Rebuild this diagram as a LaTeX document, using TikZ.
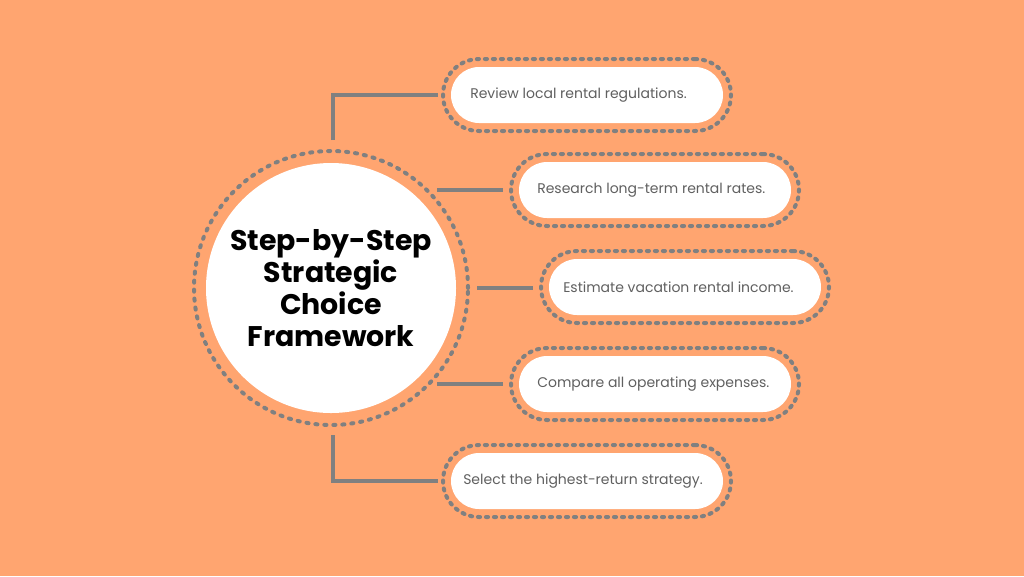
\documentclass[tikz,border=0pt]{standalone}
\usepackage{fontspec}
\setmainfont{Poppins}
\definecolor{bg}{HTML}{FFA570}
\definecolor{dotgray}{HTML}{808080}
\definecolor{textgray}{HTML}{606060}
\begin{document}
\begin{tikzpicture}[x=0.75pt,y=-0.75pt,
  pillout/.style={draw=dotgray, line width=3pt, dash pattern=on 1.6pt off 4.4pt, line cap=round, rounded corners=27pt, minimum width=216pt, minimum height=54pt, inner sep=0pt, outer sep=0pt},
  pillin/.style={fill=white, rounded corners=21pt, minimum width=204pt, minimum height=42pt, inner sep=0pt},
  pilltext/.style={anchor=west, font=\fontsize{10.5}{12}\selectfont, text=textgray, inner sep=0pt},
  conn/.style={draw=dotgray, line width=3pt},
  ringstyle/.style={circle, draw=dotgray, line width=3pt, dash pattern=on 1.6pt off 5.15pt, line cap=round, minimum size=205.5pt, inner sep=0pt, outer sep=0pt},
  discstyle/.style={circle, fill=white, minimum size=187.5pt, inner sep=0pt},
  titlestyle/.style={align=center, font=\bfseries\fontsize{21.3}{24}\selectfont, text=black}
]
\fill[bg] (0,0) rectangle (1024,576);
\useasboundingbox (0,0) rectangle (1024,576);

% central circle
\node[ringstyle] (ring) at (331,288) {};
\node[discstyle] (disc) at (331,288) {};
\node[titlestyle] (title) at (331,288) {Step-by-Step\\Strategic\\Choice\\Framework};

% pills
\node[pillout] (p1) at (587,95) {};
\node[pillin] (w1) at (587,95) {};
\node[pilltext] (t1) at (470,95) {Review local rental regulations.};

\node[pillout] (p2) at (655,190) {};
\node[pillin] (w2) at (655,190) {};
\node[pilltext] (t2) at (537,190) {Research long-term rental rates.};

\node[pillout] (p3) at (685,287) {};
\node[pillin] (w3) at (685,287) {};
\node[pilltext] (t3) at (563,287) {Estimate vacation rental income.};

\node[pillout] (p4) at (655,384) {};
\node[pillin] (w4) at (655,384) {};
\node[pilltext] (t4) at (537,384) {Compare all operating expenses.};

\node[pillout] (p5) at (587,481) {};
\node[pillin] (w5) at (587,481) {};
\node[pilltext] (t5) at (463,481) {Select the highest-return strategy.};

% connectors
\coordinate (s1) at (333,140);
\coordinate (s2) at (437,190);
\coordinate (s3) at (477,288);
\coordinate (s4) at (437,384);
\coordinate (s5) at (333,435);
\draw[conn, shorten >=4pt] (s1) |- (p1.west);
\draw[conn, shorten >=6pt] (s2) -- (p2.west);
\draw[conn, shorten >=6pt] (s3) -- (s3 -| p3.west);
\draw[conn, shorten >=6pt] (s4) -- (p4.west);
\draw[conn, shorten >=4pt] (s5) |- (p5.west);
\end{tikzpicture}
\end{document}
